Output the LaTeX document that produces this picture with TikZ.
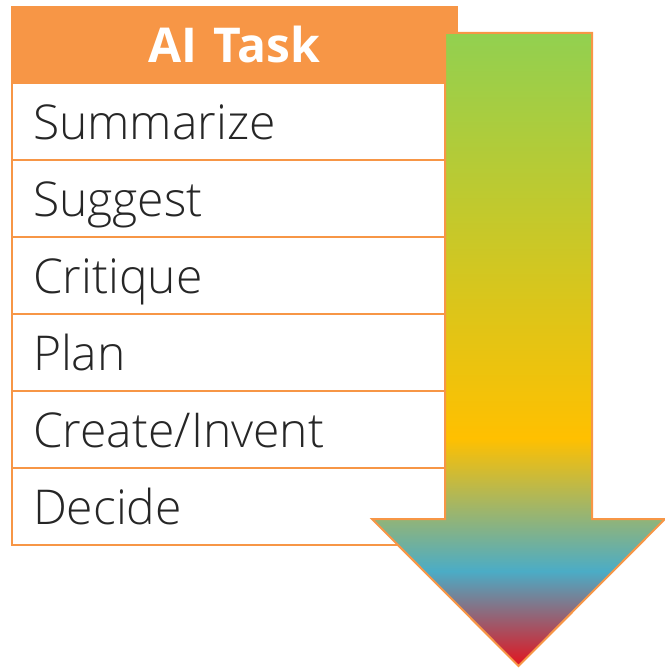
\documentclass[tikz,border=0pt]{standalone}
\usepackage{fontspec}
\setmainfont{Open Sans}
\newfontfamily\rowfont{Open Sans Light}
\usetikzlibrary{positioning}

\definecolor{taskorange}{HTML}{F79646}
\definecolor{tasktext}{HTML}{262626}
\definecolor{arrowgreen}{HTML}{92D050}
\definecolor{arrowyellow}{HTML}{FFC000}
\definecolor{arrowblue}{HTML}{4BACC6}
\definecolor{arrowred}{HTML}{E3141E}
\pgfdeclareverticalshading{arrowshade}{100bp}{color(0bp)=(arrowred); color(25bp)=(arrowred); color(32.5bp)=(arrowblue); color(43bp)=(arrowyellow); color(75bp)=(arrowgreen); color(100bp)=(arrowgreen)}

\begin{document}
\begin{tikzpicture}[x=1pt,y=-1pt,node distance=0pt,
	cell/.style={draw=taskorange,line width=1.5pt,minimum width=445pt,inner xsep=21pt,inner ysep=0pt,outer sep=0pt,text width=403pt,text height=36pt,text depth=0pt},
	head/.style={cell,fill=taskorange,minimum height=76pt,align=center,text=white,font=\fontsize{48}{56}\bfseries\selectfont},
	task/.style={cell,fill=white,minimum height=77pt,align=left,text=tasktext,font=\rowfont\fontsize{48}{56}\selectfont},
	arrowbody/.style={draw=taskorange,line width=2pt,line join=miter,shade,shading=arrowshade}]
	\useasboundingbox (0,0) rectangle (664,668);
	% table
	\node[head,anchor=north west] (head) at (12,7) {AI Task};
	\node[task,below=of head] (summarize) {Summarize};
	\node[task,below=of summarize] (suggest) {Suggest};
	\node[task,below=of suggest] (critique) {Critique};
	\node[task,below=of critique] (plan) {Plan};
	\node[task,below=of plan] (create) {Create/Invent};
	\node[task,below=of create] (decide) {Decide};
	% arrow
	\coordinate (shaft nw) at (445,33);
	\coordinate (shaft ne) at (592,33);
	\coordinate (shaft se) at (592,519);
	\coordinate (head e) at (665,519);
	\coordinate (tip) at (518.5,666);
	\coordinate (head w) at (372,519);
	\coordinate (shaft sw) at (445,519);
	\draw[arrowbody] (shaft nw) -- (shaft ne) -- (shaft se) -- (head e) -- (tip) -- (head w) -- (shaft sw) -- cycle;
\end{tikzpicture}
\end{document}
